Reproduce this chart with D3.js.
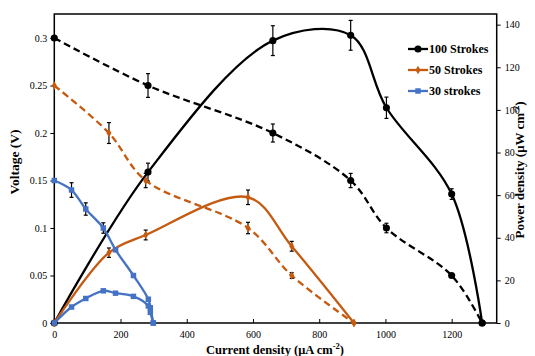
<html>
<head>
<style>
  body { margin: 0; background: #fff; }
  svg text { font-family: "Liberation Serif", "Times New Roman", serif !important; }
</style>
</head>
<body>
<svg id="chart" width="535" height="356"></svg>
<script src="https://d3js.org/d3.v7.min.js"></script>
<script>
// current density (µA cm-2), voltage (V), power density (µW cm-2), error bars
const i100 = [0, 283, 660, 895, 1003, 1200, 1292]
const v100 = [0.30, 0.25, 0.20, 0.15, 0.10, 0.05, 0]
const p100 = [0, 70.8, 132.5, 135, 101, 60.5, 0]
const ev100 = [0, 0.0125, 0.0095, 0.0075, 0.005, 0.002, 0]
const ep100 = [0, 4.2, 7, 7, 5, 2.5, 0]

const i50 = [0, 165, 276, 585, 717, 905]
const v50 = [0.25, 0.20, 0.15, 0.10, 0.05, 0]
const p50 = [0, 33, 41.3, 59, 36, 0]
const ev50 = [0, 0.011, 0.0075, 0.006, 0.003, 0]
const ep50 = [0, 2.2, 2.3, 3.4, 2.3, 0]

const i30 = [0, 52, 95, 148, 185, 239, 284, 290, 299]
const v30 = [0.15, 0.14, 0.12, 0.10, 0.077, 0.05, 0.025, 0.016, 0]
const p30 = [0, 7.5, 11.5, 15.1, 14, 12.5, 8, 5, 0]
const ev30 = [0, 0.0077, 0.0065, 0.0055, 0, 0, 0, 0, 0]
const ep30 = [0, 0, 0, 0, 0, 0, 0, 0, 0]

const xTicks = [0, 200, 400, 600, 800, 1000, 1200]
const vTicks = [0, 0.05, 0.1, 0.15, 0.2, 0.25, 0.3]
const pTicks = [0, 20, 40, 60, 80, 100, 120, 140]

const series = [
  { name: "100 Strokes", color: "#000000", marker: "circle", i: i100, v: v100, p: p100, ev: ev100, ep: ep100 },
  { name: "50 Strokes", color: "#C55A11", marker: "diamond", i: i50, v: v50, p: p50, ev: ev50, ep: ep50 },
  { name: "30 strokes", color: "#4472C4", marker: "square", i: i30, v: v30, p: p30, ev: ev30, ep: ep30 }
]

const plotLeft = 54.3, plotRight = 496.7, plotTop = 14, plotBottom = 323
const serif = "Liberation Serif"
const svg = d3.select("#chart")

let x = d3.scaleLinear().domain([0, 1336]).range([plotLeft, plotRight])
let yV = d3.scaleLinear().domain([0, 0.3253]).range([plotBottom, plotTop])
let yP = d3.scaleLinear().domain([0, 145]).range([plotBottom, plotTop])

// axes
let gx = svg.append("g").attr("transform", `translate(0,${plotBottom})`)
    .call(d3.axisBottom(x).tickValues(xTicks).tickSizeInner(-4).tickSizeOuter(0).tickPadding(8).tickFormat(d3.format("d")))
let gl = svg.append("g").attr("transform", `translate(${plotLeft},0)`)
    .call(d3.axisLeft(yV).tickValues(vTicks).tickSizeInner(4).tickSizeOuter(0).tickPadding(3).tickFormat(d => d === 0 ? "0" : String(d)))
let gr = svg.append("g").attr("transform", `translate(${plotRight},0)`)
    .call(d3.axisRight(yP).tickValues(pTicks).tickSizeInner(4).tickSizeOuter(0).tickPadding(4))

for (let g of [gx, gl, gr]) {
    g.attr("font-family", serif)
    g.select(".domain").remove()
    g.selectAll("line").attr("stroke", "#000").attr("stroke-width", 1)
    g.selectAll("text").attr("fill", "#000").style("font-size", "10px").style("font-family", serif)
}

// frame
svg.append("rect").attr("x", plotLeft).attr("y", plotTop)
    .attr("width", plotRight - plotLeft).attr("height", plotBottom - plotTop)
    .attr("fill", "none").attr("stroke", "#000").attr("stroke-width", 1.5)

function markerPath(kind, size) {
    let sym = kind === "circle" ? d3.symbolCircle : kind === "square" ? d3.symbolSquare : d3.symbolDiamond
    return d3.symbol().type(sym).size(size)()
}
let msize = { circle: 40, diamond: 22, square: 30 }

let plot = svg.append("g")

series.forEach(s => {
    let vData = s.i.map((c, k) => ({ c: c, y: s.v[k], e: s.ev[k] }))
    let pData = s.i.map((c, k) => ({ c: c, y: s.p[k], e: s.ep[k] }))

    let lineV = d3.line().x(d => x(d.c)).y(d => yV(d.y)).curve(d3.curveCatmullRom.alpha(0.5))
    let lineP = d3.line().x(d => x(d.c)).y(d => yP(d.y)).curve(d3.curveCatmullRom.alpha(0.5))

    plot.append("path").datum(vData).attr("d", lineV)
        .attr("fill", "none").attr("stroke", s.color).attr("stroke-width", 2.3)
        .attr("stroke-dasharray", s.name === "30 strokes" ? null : "7,4")
    plot.append("path").datum(pData).attr("d", lineP)
        .attr("fill", "none").attr("stroke", s.color).attr("stroke-width", 2.3)

    // error bars
    let bars = [].concat(
        vData.filter(d => d.e > 0).map(d => ({ cx: x(d.c), y1: yV(d.y - d.e), y2: yV(d.y + d.e) })),
        pData.filter(d => d.e > 0).map(d => ({ cx: x(d.c), y1: yP(d.y - d.e), y2: yP(d.y + d.e) }))
    )
    let eb = plot.append("g").selectAll("g").data(bars).enter().append("g")
    eb.append("line").attr("x1", d => d.cx).attr("x2", d => d.cx).attr("y1", d => d.y1).attr("y2", d => d.y2)
        .attr("stroke", "#000").attr("stroke-width", 1.2)
    eb.append("line").attr("x1", d => d.cx - 2).attr("x2", d => d.cx + 2).attr("y1", d => d.y1).attr("y2", d => d.y1)
        .attr("stroke", "#000").attr("stroke-width", 1.2)
    eb.append("line").attr("x1", d => d.cx - 2).attr("x2", d => d.cx + 2).attr("y1", d => d.y2).attr("y2", d => d.y2)
        .attr("stroke", "#000").attr("stroke-width", 1.2)

    // markers
    plot.append("g").selectAll("path").data(vData).enter().append("path")
        .attr("d", markerPath(s.marker, msize[s.marker]))
        .attr("transform", d => `translate(${x(d.c)},${yV(d.y)})`)
        .attr("fill", s.color)
    plot.append("g").selectAll("path").data(pData).enter().append("path")
        .attr("d", markerPath(s.marker, msize[s.marker]))
        .attr("transform", d => `translate(${x(d.c)},${yP(d.y)})`)
        .attr("fill", s.color)
})

// legend
let legend = svg.append("g").selectAll("g").data(series).enter().append("g")
    .attr("transform", (d, k) => `translate(408,${49 + k * 21})`)
legend.append("line").attr("x1", 0).attr("x2", 20).attr("y1", 0).attr("y2", 0)
    .attr("stroke", d => d.color).attr("stroke-width", 2.3)
legend.append("path").attr("d", d => markerPath(d.marker, msize[d.marker]))
    .attr("transform", "translate(10,0)").attr("fill", d => d.color)
legend.append("text").attr("x", 21).attr("y", 4).text(d => d.name)
    .style("font-family", serif).style("font-size", "12px").style("font-weight", "bold").attr("fill", "#000")

// axis titles
svg.append("text").attr("x", 275).attr("y", 354).attr("text-anchor", "middle")
    .style("font-family", serif).style("font-size", "12.5px").style("font-weight", "bold")
    .html('Current density (μA cm<tspan dy="-5" font-size="8.5px">-2</tspan><tspan dy="5">)</tspan>')
svg.append("text").attr("transform", "translate(19,162) rotate(-90)").attr("text-anchor", "middle")
    .style("font-family", serif).style("font-size", "13.5px").style("font-weight", "bold").text("Voltage (V)")
svg.append("text").attr("transform", "translate(524,170) rotate(-90)").attr("text-anchor", "middle")
    .style("font-family", serif).style("font-size", "13px").style("font-weight", "bold")
    .html('Power density  (μW cm<tspan dy="-5" font-size="8.5px">-2</tspan><tspan dy="5">)</tspan>')
</script>
</body>
</html>
